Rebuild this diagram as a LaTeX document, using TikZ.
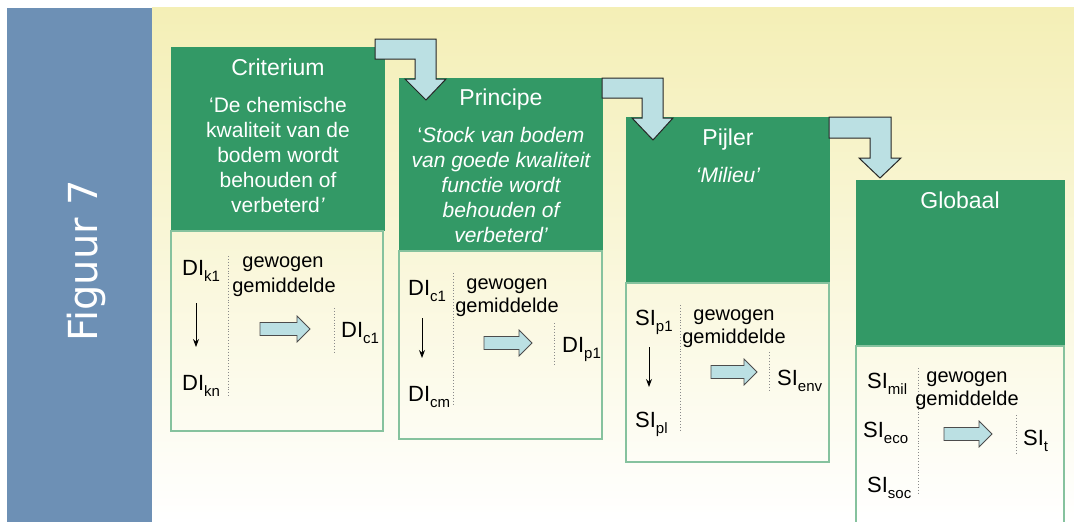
\documentclass[tikz,border=0pt]{standalone}
\usepackage{fontspec}
\setmainfont{Liberation Sans}
\newfontfamily\figfont{DejaVu Sans}
\usetikzlibrary{arrows.meta}
\definecolor{bandblue}{HTML}{6D90B5}
\definecolor{bgyellow}{HTML}{F4EFB6}
\definecolor{hdrgreen}{HTML}{339966}
\definecolor{framegreen}{HTML}{86C29E}
\definecolor{arrowblue}{HTML}{BBE0E3}
\definecolor{dotgray}{HTML}{8A8A8A}
\newcommand\sbs[1]{\raisebox{-6pt}{\fontsize{15}{15}\selectfont #1}}
\newcommand\blockarr[3]{\draw[barrow] (#1,#3) ++(0,-6.5) -- ++({#2-#1-13},0) -- ++(0,-6.5) -- ++(13,13) -- ++(-13,13) -- ++(0,-6.5) -- ++({-(#2-#1-13)},0) -- cycle;}
\tikzset{
 hdr/.style={fill=hdrgreen, draw=none},
 frame/.style={draw=framegreen, line width=1.2pt},
 bentarrow/.style={fill=arrowblue, draw=black!85, line width=1pt, line join=miter},
 barrow/.style={fill=arrowblue, draw=black!70, line width=0.8pt},
 ttl/.style={text=white, font=\fontsize{23}{27}\selectfont, anchor=base, inner sep=0pt},
 quote/.style={text=white, font=\fontsize{21}{25}\selectfont, anchor=north, inner sep=0pt, align=center},
 lbl/.style={font=\fontsize{22}{25}\selectfont, anchor=base west, inner sep=0pt},
 wg/.style={font=\fontsize{20}{24}\selectfont, anchor=base, inner sep=0pt},
 dots/.style={draw=dotgray, dotted, line width=0.9pt},
 down/.style={-{Stealth[length=8pt,width=6pt]}, line width=0.9pt},
}
\begin{document}
\begin{tikzpicture}[x=1pt,y=-1pt]
\useasboundingbox (0,0) rectangle (1074,522);
\fill[white] (0,0) rectangle (1074,522);
% backgrounds
\shade[top color=bgyellow, middle color=bgyellow!35!white, bottom color=white] (152,7) rectangle (1074,522);
\fill[bandblue] (7,8) rectangle (152,522);
\node[rotate=90, anchor=base, text=white, inner sep=0pt, font=\figfont\fontsize{40}{44}\selectfont] (fig) at (97,261) {Figuur 7};
% boxes
\fill[hdr] (171,47) rectangle (385,231);
\draw[frame] (171,231) rectangle (383,431);
\fill[hdr] (399,78) rectangle (603,251);
\draw[frame] (399,251) rectangle (602,439);
\fill[hdr] (626,117) rectangle (830,283);
\draw[frame] (626,283) rectangle (829,462);
\fill[hdr] (856,180) rectangle (1065,346);
\draw[frame] (856,523) -- (856,346) -- (1064,346) -- (1064,523);
% bent arrows
\draw[bentarrow] (375,39) -- (436,39) -- (436,79) -- (446,79) -- (426,100) -- (405,79) -- (415,79) -- (415,59) -- (375,59) -- cycle;
\draw[bentarrow] (602,78) -- (663,78) -- (663,118) -- (673,118) -- (653,140) -- (632,118) -- (642,118) -- (642,98) -- (602,98) -- cycle;
\draw[bentarrow] (829,117) -- (891,117) -- (891,158) -- (901,158) -- (880,178) -- (859,158) -- (870,158) -- (870,138) -- (829,138) -- cycle;
% header texts
\node[ttl] (t1) at (278,75) {Criterium};
\node[quote] (q1) at (278,97.5) {‘De chemische\\kwaliteit van de\\bodem wordt\\behouden of\\verbeterd\textit{’}};
\node[ttl] (t2) at (501,105) {Principe};
\node[quote, font=\fontsize{21}{25}\selectfont\itshape] (q2) at (501,127.5) {{\upshape ‘}Stock van bodem\\van goede kwaliteit\\functie wordt\\behouden of\\verbeterd’};
\node[ttl] (t3) at (728,145) {Pijler};
\node[quote, anchor=base, font=\fontsize{21}{25}\selectfont\itshape] (q3) at (728,182) {‘Milieu’};
\node[ttl] (t4) at (960,208) {Globaal};
% box 1 content
\node[lbl] (dik1) at (182,275) {DI\sbs{k1}};
\node[lbl] (dikn) at (182,390) {DI\sbs{kn}};
\draw[dots] (228,256) -- (228,396);
\node[wg] (gw1) at (283,267) {gewogen};
\node[wg] (gm1) at (284,292) {gemiddelde};
\coordinate (d1s) at (196,303); \coordinate (d1e) at (196,347);
\draw[down] (d1s) -- (d1e);
\blockarr{260}{310}{329}
\draw[dots] (334,308) -- (334,353);
\node[lbl] (dic1) at (341,337) {DI\sbs{c1}};
% box 2 content
\node[lbl] (dic1b) at (408,295) {DI\sbs{c1}};
\node[lbl] (dicm) at (408,401) {DI\sbs{cm}};
\draw[dots] (453,273) -- (453,405);
\node[wg] (gw2) at (507,289) {gewogen};
\node[wg] (gm2) at (507,312) {gemiddelde};
\coordinate (d2s) at (422,318); \coordinate (d2e) at (422,358);
\draw[down] (d2s) -- (d2e);
\blockarr{484}{532}{343}
\draw[dots] (554,323) -- (554,364);
\node[lbl] (dip1) at (562,352) {DI\sbs{p1}};
% box 3 content
\node[lbl] (sip1) at (635,325) {SI\sbs{p1}};
\node[lbl] (sipl) at (635,427) {SI\sbs{pl}};
\draw[dots] (680,305) -- (680,432);
\node[wg] (gw3) at (734,320) {gewogen};
\node[wg] (gm3) at (734,343) {gemiddelde};
\coordinate (d3s) at (649,347); \coordinate (d3e) at (649,387);
\draw[down] (d3s) -- (d3e);
\blockarr{711}{757}{372}
\draw[dots] (769,352) -- (769,390);
\node[lbl] (sienv) at (777,385) {SI\sbs{env}};
% box 4 content
\node[lbl] (simil) at (867,388) {SI\sbs{mil}};
\node[lbl] (sieco) at (863,437) {SI\sbs{eco}};
\node[lbl] (sisoc) at (867,492) {SI\sbs{soc}};
\draw[dots] (918,368) -- (918,495);
\node[wg] (gw4) at (967,382) {gewogen};
\node[wg] (gm4) at (967,405) {gemiddelde};
\blockarr{944}{992}{434}
\draw[dots] (1016,415) -- (1016,455);
\node[lbl] (sit) at (1023,445) {SI\sbs{t}};
\end{tikzpicture}
\end{document}
